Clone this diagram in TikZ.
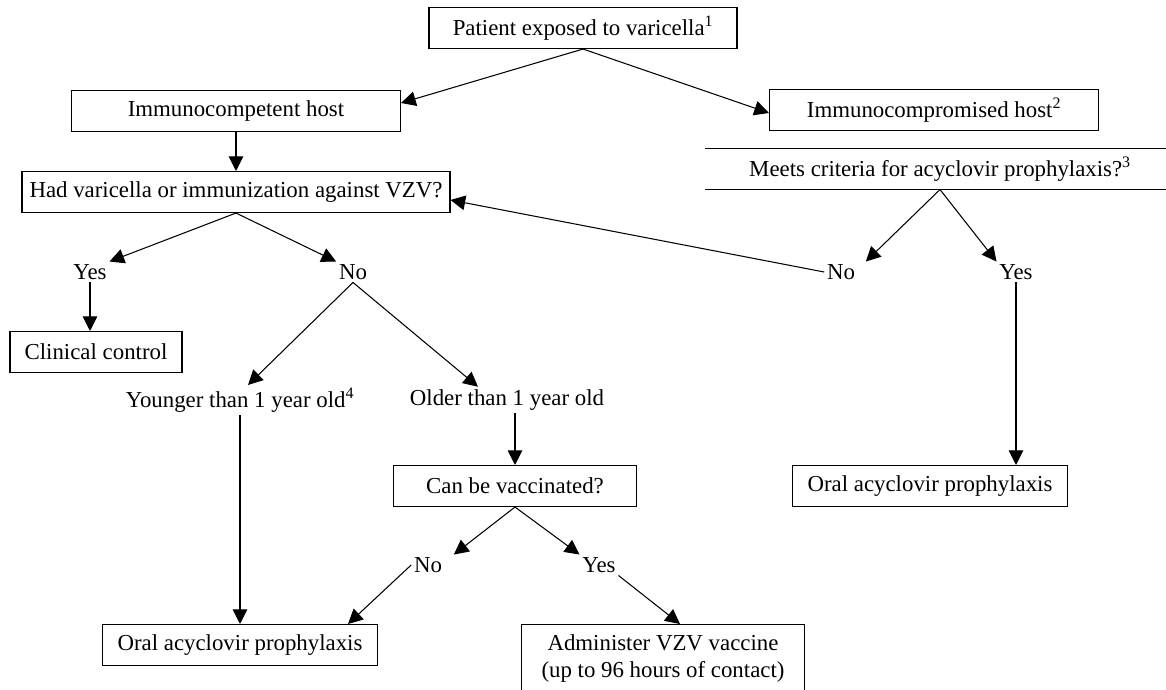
\documentclass[tikz,border=0pt]{standalone}
\usepackage{fontspec}
\setmainfont{Liberation Serif}
\usetikzlibrary{arrows.meta,calc}
\tikzstyle{every path}=[line width=0.9pt, line join=miter]
\tikzstyle{caja}=[draw, rectangle, minimum height=1.23cm, inner sep=2pt]
\tikzstyle{etiq}=[inner sep=2pt]
\tikzstyle{flecha}=[-{Triangle[length=0.44cm,width=0.44cm]}]

\begin{document}
\begin{tikzpicture}[x=0.03cm,y=-0.03cm, every node/.style={font=\fontsize{19.5}{23}\selectfont}]
        \useasboundingbox (0,0) rectangle (1166,689);
        %inicio
        \node[caja, minimum width=9.24cm] (pat) at (583,28) {Patient exposed to varicella\textsuperscript{1}};
        \node[caja, minimum width=9.87cm] (imc) at (236,111) {Immunocompetent host};
        \node[caja, minimum width=9.87cm] (icp) at (934,110) {Immunocompromised host\textsuperscript{2}};
        \draw[flecha] (pat.south) -- ($(imc.east)+(0,-8)$);
        \draw[flecha] (pat.south) -- ($(icp.west)+(0,3)$);
        %rama izquierda
        \node[caja, minimum width=12.84cm] (had) at (236,192) {Had varicella or immunization against VZV?};
        \draw[flecha] (imc.south) -- (had.north);
        \node[etiq] (yes1) at (90,272) {Yes};
        \node[etiq] (no1) at (353,272) {No};
        \draw[flecha] (had.south) -- (yes1.north east);
        \draw[flecha] (had.south) -- (no1.north west);
        \node[caja, minimum width=5.16cm] (clin) at (96,352) {Clinical control};
        \draw[flecha] (yes1.south) -- (yes1.south |- clin.north);
        %edad
        \node[etiq] (young) at (240,400) {Younger than 1 year old\textsuperscript{4}};
        \node[etiq] (old) at (507,400) {Older than 1 year old};
        \draw[flecha] (no1.south) -- ($(young.north)+(8,0)$);
        \draw[flecha] (no1.south) -- ($(old.north)+(-29,0)$);
        \node[caja, minimum width=7.29cm] (can) at (515,486) {Can be vaccinated?};
        \draw[flecha] (old.south -| can.north) -- (can.north);
        \node[etiq] (no2) at (428,565) {No};
        \node[etiq] (yes2) at (599,565) {Yes};
        \draw[flecha] (can.south) -- ($(no2.north east)+(9,0)$);
        \draw[flecha] (can.south) -- (yes2.north west);
        \node[caja, minimum width=8.25cm] (oral1) at (240,645) {Oral acyclovir prophylaxis};
        \draw[flecha] (young.south) -- (oral1.north);
        \draw[flecha] (no2.west) -- ($(oral1.north east)+(-30,0)$);
        \node[caja, minimum width=8.49cm, anchor=north, align=center, inner ysep=0.3cm] (admin) at (663,624) {Administer VZV vaccine\\(up to 96 hours of contact)\\ \mbox{}};
        \draw[flecha] (yes2.south east) -- ($(admin.north)+(17,0)$);
        %rama derecha (caja cortada)
        \node[minimum width=14.04cm, minimum height=1.2cm] (meets) at (940,169) {Meets criteria for acyclovir prophylaxis?\textsuperscript{3}};
        \draw (meets.north west) -- (meets.north east) (meets.south west) -- (meets.south east);
        \node[etiq] (noR) at (841,272) {No};
        \node[etiq] (yesR) at (1016,272) {Yes};
        \draw[flecha] (meets.south) -- ($(noR.north east)+(8,0)$);
        \draw[flecha] (meets.south) -- (yesR.north west);
        \draw[flecha] (noR.west) -- ($(had.east)+(0,8)$);
        \node[caja, minimum width=8.25cm] (oral2) at (930,486) {Oral acyclovir prophylaxis};
        \draw[flecha] (yesR.south) -- (yesR.south |- oral2.north);
\end{tikzpicture}
\end{document}
